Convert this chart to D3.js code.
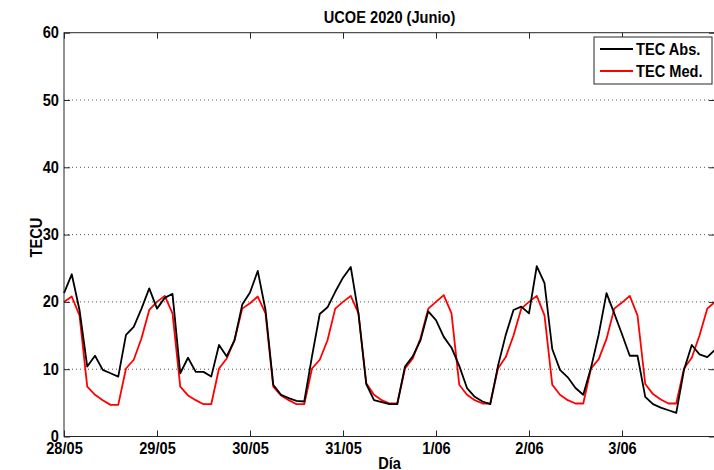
<!DOCTYPE html>
<html>
<head>
<meta charset="utf-8">
<script src="https://cdn.jsdelivr.net/npm/d3@7/dist/d3.min.js"></script>
<style>
  html, body { margin: 0; padding: 0; background: #fff; }
  svg { display: block; }
  text { font-family: 'Liberation Sans', Arial, Helvetica, sans-serif; font-weight: bold; fill: #000; }
</style>
</head>
<body>
<svg id="chart" width="714" height="470"></svg>
<script>
// ---- data ----
const startTime = "2020-05-28T00:00:00";
const stepHours = 2;
const dayTicks = ["28/05", "29/05", "30/05", "31/05", "1/06", "2/06", "3/06"];
const yTicks = [0, 10, 20, 30, 40, 50, 60];
const seriesNames = ["TEC Abs.", "TEC Med."];
const tecAbs = [
  21.3, 24.1, 18.8, 10.4, 12.0, 9.9, 9.4, 8.9, 15.1, 16.3, 19.0, 22.0,
  19.0, 20.6, 21.2, 9.4, 11.7, 9.6, 9.6, 8.9, 13.6, 11.9, 14.3, 19.6,
  21.4, 24.6, 18.8, 7.7, 6.2, 5.7, 5.3, 5.2, 11.9, 18.2, 19.2, 21.5,
  23.6, 25.2, 18.2, 7.8, 5.4, 5.1, 4.8, 4.8, 10.4, 11.9, 14.3, 18.6,
  17.3, 14.8, 13.2, 10.5, 7.2, 5.9, 5.2, 4.8, 10.5, 15.1, 18.8, 19.3,
  18.3, 25.3, 22.8, 13.0, 9.9, 8.8, 7.2, 6.2, 10.2, 15.2, 21.3, 18.3,
  15.2, 12.0, 12.0, 5.9, 4.8, 4.3, 3.9, 3.5, 9.9, 13.6, 12.2, 11.8,
  12.9
];
const tecMed = [
  20.0, 20.8, 18.0, 7.4, 6.2, 5.4, 4.7, 4.7, 10.1, 11.4, 14.6, 18.8,
  20.0, 20.9, 18.3, 7.4, 6.1, 5.4, 4.8, 4.8, 10.1, 11.6, 14.3, 19.0,
  19.8, 20.8, 18.3, 7.4, 6.1, 5.4, 4.8, 4.8, 10.1, 11.4, 14.3, 19.0,
  20.0, 20.9, 18.3, 7.9, 6.2, 5.4, 4.9, 4.9, 10.1, 11.6, 14.6, 19.0,
  20.0, 21.0, 18.3, 7.7, 6.2, 5.4, 4.9, 4.9, 10.1, 11.8, 15.0, 19.0,
  20.0, 20.9, 18.0, 7.7, 6.2, 5.4, 4.9, 4.9, 10.1, 11.5, 14.5, 19.0,
  19.9, 20.9, 18.0, 7.8, 6.3, 5.5, 4.9, 4.9, 10.1, 11.7, 15.0, 19.0,
  20.0
];

(function () {
// ---- layout ----
const svg = d3.select("#chart");
const pL = 64, pR = 715, pT = 32.7, pB = 436.5;
const SX = 0.86;   // horizontal condensing of the bold font
const FS = 17;
const t0 = new Date(startTime);
const times = tecAbs.map((_, i) => d3.timeHour.offset(t0, i * stepHours));
const t1 = d3.timeDay.offset(t0, dayTicks.length);
const x = d3.scaleTime().domain([t0, t1]).range([pL, pR]);
const y = d3.scaleLinear().domain([0, 60]).range([pB, pT]);
const tickDates = dayTicks.map((_, i) => d3.timeDay.offset(t0, i));

function condense(sel) {
  sel.each(function () {
    const t = d3.select(this);
    const tx = +t.attr("x") || 0, ty = +t.attr("y") || 0;
    t.attr("x", 0).attr("y", 0)
     .attr("transform", `translate(${tx},${ty}) scale(${SX},1)`);
  });
}

// grid
svg.append("g").selectAll("line").data(yTicks.filter(v => v > 0 && v < 60)).join("line")
  .attr("x1", pL).attr("x2", pR)
  .attr("y1", d => y(d)).attr("y2", d => y(d))
  .attr("stroke", "#555").attr("stroke-width", 1)
  .attr("stroke-dasharray", "1,3");

// data lines
const line = d3.line().x((d, i) => x(times[i])).y(d => y(d));
svg.append("path").datum(tecMed).attr("d", line)
  .attr("fill", "none").attr("stroke", "#ff0000").attr("stroke-width", 1.8).attr("stroke-linejoin", "round");
svg.append("path").datum(tecAbs).attr("d", line)
  .attr("fill", "none").attr("stroke", "#000").attr("stroke-width", 1.8).attr("stroke-linejoin", "round");

// axes box
const axColor = "#262626";
svg.append("rect").attr("x", pL).attr("y", pT).attr("width", pR - pL).attr("height", pB - pT)
  .attr("fill", "none").attr("stroke", axColor).attr("stroke-width", 1);

// x ticks (bottom + top, inward)
const xAxisB = d3.axisBottom(x).tickValues(tickDates).tickSize(-6).tickFormat((d, i) => dayTicks[i]).tickPadding(10);
const gxb = svg.append("g").attr("transform", `translate(0,${pB})`).call(xAxisB);
gxb.select(".domain").remove();
gxb.selectAll("line").attr("stroke", axColor);
gxb.selectAll("text").attr("font-size", FS).attr("fill", "#000")
  .style("font-family", "'Liberation Sans',Arial,sans-serif").style("font-weight", "bold")
  .attr("dy", null).attr("y", 17.5).call(condense);
const xAxisT = d3.axisTop(x).tickValues(tickDates).tickSize(-6).tickFormat("");
const gxt = svg.append("g").attr("transform", `translate(0,${pT})`).call(xAxisT);
gxt.select(".domain").remove();
gxt.selectAll("line").attr("stroke", axColor);

// y ticks (left + right, inward)
const yAxisL = d3.axisLeft(y).tickValues(yTicks).tickSize(-6).tickPadding(6).tickFormat(d3.format("d"));
const gyl = svg.append("g").attr("transform", `translate(${pL},0)`).call(yAxisL);
gyl.select(".domain").remove();
gyl.selectAll("line").attr("stroke", axColor);
gyl.selectAll("text").attr("font-size", FS).attr("fill", "#000")
  .style("font-family", "'Liberation Sans',Arial,sans-serif").style("font-weight", "bold")
  .attr("x", -5).attr("dy", null).attr("y", 5).call(condense);
const yAxisR = d3.axisRight(y).tickValues(yTicks).tickSize(-6).tickFormat("");
const gyr = svg.append("g").attr("transform", `translate(${pR},0)`).call(yAxisR);
gyr.select(".domain").remove();
gyr.selectAll("line").attr("stroke", axColor);

// title and labels
svg.append("text").attr("x", (pL + pR) / 2).attr("y", 23).attr("text-anchor", "middle")
  .attr("font-size", FS).text("UCOE 2020 (Junio)").call(condense);
svg.append("text").attr("x", (pL + pR) / 2).attr("y", 469).attr("text-anchor", "middle")
  .attr("font-size", FS).text("Día").call(condense);
svg.append("text")
  .attr("transform", `translate(42,${(pT + pB) / 2 + 3}) rotate(-90) scale(${SX},1)`)
  .attr("text-anchor", "middle")
  .attr("font-size", FS).text("TECU");

// legend
const lg = svg.append("g");
lg.append("rect").attr("x", 594).attr("y", 37).attr("width", 118).attr("height", 47)
  .attr("fill", "#fff").attr("stroke", axColor).attr("stroke-width", 1);
const colors = ["#000", "#ff0000"];
seriesNames.forEach((name, i) => {
  const yy = 49 + i * 22;
  lg.append("line").attr("x1", 600).attr("x2", 633).attr("y1", yy).attr("y2", yy)
    .attr("stroke", colors[i]).attr("stroke-width", 1.8);
  lg.append("text").attr("x", 636).attr("y", yy + 6).attr("font-size", FS).text(name).call(condense);
});
})();
</script>
</body>
</html>
